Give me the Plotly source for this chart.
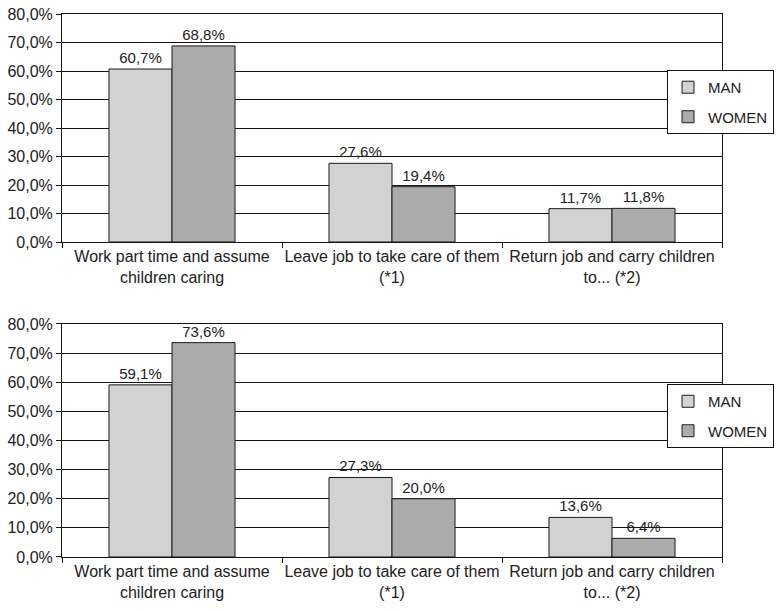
import plotly.graph_objects as go

categories = [
    "Work part time and assume<br>children caring",
    "Leave job to take care of them<br>(*1)",
    "Return job and carry children<br>to... (*2)",
]
series_names = ["MAN", "WOMEN"]
man_top = [0.607, 0.276, 0.117]
women_top = [0.688, 0.194, 0.118]
man_bottom = [0.591, 0.273, 0.136]
women_bottom = [0.736, 0.200, 0.064]
y_tick_values = [0.0, 0.1, 0.2, 0.3, 0.4, 0.5, 0.6, 0.7, 0.8]

colors = {"MAN": "#d2d2d2", "WOMEN": "#ababab"}
FONT = "Liberation Sans, Arial, sans-serif"
TXT = "#222222"

fig = go.Figure()

panels = [
    ("x", "y", "legend", [man_top, women_top]),
    ("x2", "y2", "legend2", [man_bottom, women_bottom]),
]
for xa, ya, lg, vals in panels:
    for name, v in zip(series_names, vals):
        fig.add_trace(go.Bar(
            x=categories, y=v, name=name, xaxis=xa, yaxis=ya, legend=lg,
            legendgroup=lg + name,
            marker=dict(color=colors[name], line=dict(color="#1a1a1a", width=1)),
            texttemplate="%{y:.1%}", textposition="outside", cliponaxis=False,
            textfont=dict(family=FONT, size=15, color=TXT),
        ))

def xaxis_style(anchor):
    return dict(
        anchor=anchor, domain=[0, 1], showline=True, linecolor="#111", linewidth=1,
        mirror=True, ticks="outside", tickson="boundaries", ticklen=5,
        tickcolor="#111", showgrid=False, zeroline=False, tickangle=0,
        tickfont=dict(family=FONT, size=16, color=TXT),
    )

def yaxis_style(anchor, domain):
    return dict(
        anchor=anchor, domain=domain, range=[0, 0.8], tickvals=y_tick_values,
        tickformat=".1%", showline=True, linecolor="#111", linewidth=1, mirror=True,
        ticks="outside", ticklen=5, tickcolor="#111", showgrid=True,
        gridcolor="#111", gridwidth=1, zeroline=False,
        tickfont=dict(family=FONT, size=16, color=TXT),
    )

legend_common = dict(
    xanchor="left", yanchor="top", x=0.9167, bgcolor="white",
    bordercolor="#111", borderwidth=1, tracegroupgap=7,
    font=dict(family=FONT, size=15, color=TXT),
)

fig.update_layout(
    width=776, height=611,
    margin=dict(l=62, r=54, t=14, b=54, autoexpand=False),
    separators=", ",
    paper_bgcolor="white", plot_bgcolor="white",
    font=dict(family=FONT, size=15, color=TXT),
    barmode="group", bargap=0.427, bargroupgap=0,
    xaxis=xaxis_style("y"),
    yaxis=yaxis_style("x", [0.5801, 1.0]),
    xaxis2=xaxis_style("y2"),
    yaxis2=yaxis_style("x2", [0.0, 0.4291]),
    legend=dict(y=0.8969, **legend_common),
    legend2=dict(y=0.3186, **legend_common),
)

fig.write_html("out.html")
